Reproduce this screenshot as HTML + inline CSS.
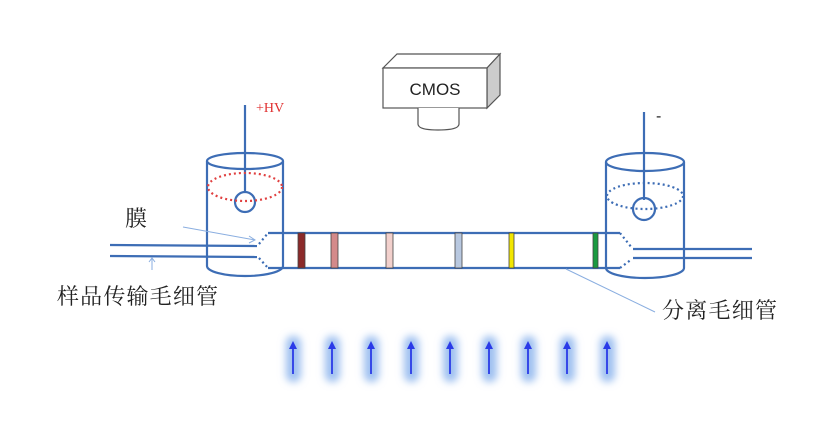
<!DOCTYPE html>
<html><head><meta charset="utf-8"><style>
body{margin:0;background:#fff;width:822px;height:419px;overflow:hidden}
</style></head><body>
<svg width="822" height="419" xmlns="http://www.w3.org/2000/svg">
<defs>
<filter id="b" x="-100%" y="-50%" width="300%" height="200%"><feGaussianBlur stdDeviation="4"/></filter>
</defs>
<!-- CMOS -->
<polygon points="383,68 397,54 500,54 487,68" fill="#fff" stroke="#555" stroke-width="1.2"/>
<polygon points="487,68 500,54 500,95 487,108" fill="#ccc" stroke="#555" stroke-width="1.2"/>
<rect x="383" y="68" width="104" height="40" fill="#fff" stroke="#555" stroke-width="1.2"/>
<text x="435" y="95" font-family="Liberation Sans, sans-serif" font-size="17" text-anchor="middle" fill="#222">CMOS</text>
<path d="M418,108 V124 Q418,130 438,130 Q459,130 459,124 V108" fill="#fff" stroke="#555" stroke-width="1.2"/>
<g stroke="#3d6db5" fill="none" stroke-width="2.2">
<!-- left cylinder -->
<ellipse cx="245" cy="161" rx="38" ry="8"/>
<path d="M207,161 V266 A38,10 0 0 0 283,266 V161"/>
<line x1="245" y1="105" x2="245" y2="193"/>
<circle cx="245" cy="202" r="10"/>
<!-- right cylinder -->
<ellipse cx="645" cy="162" rx="39" ry="9"/>
<path d="M606,162 V268 A39,10 0 0 0 684,268 V162"/>
<line x1="644" y1="112" x2="644" y2="200"/>
<circle cx="644" cy="209" r="11"/>
<!-- separation capillary -->
<line x1="268" y1="233" x2="620" y2="233"/>
<line x1="268" y1="268" x2="620" y2="268"/>
<!-- transport capillary -->
<line x1="110" y1="245" x2="257" y2="246"/>
<line x1="110" y1="256" x2="257" y2="257"/>
<line x1="633" y1="249" x2="752" y2="249"/>
<line x1="633" y1="258" x2="752" y2="258"/>
</g>
<g stroke="#3d6db5" fill="none" stroke-width="2.2" stroke-dasharray="2,3">
<line x1="259" y1="244" x2="268" y2="233"/>
<line x1="259" y1="258" x2="268" y2="268"/>
<line x1="620" y1="233" x2="632" y2="248"/>
<line x1="620" y1="268" x2="632" y2="259"/>
<ellipse cx="645" cy="196" rx="38" ry="13"/>
</g>
<ellipse cx="245" cy="187" rx="37" ry="14" fill="none" stroke="#e04040" stroke-width="2.2" stroke-dasharray="2,3"/>
<!-- bands -->
<g stroke="#444" stroke-width="0.8">
<rect x="298" y="233" width="7" height="35" fill="#8b2a2a"/>
<rect x="331" y="233" width="7" height="35" fill="#d48a8a"/>
<rect x="386" y="233" width="7" height="35" fill="#f2d0cc"/>
<rect x="455" y="233" width="7" height="35" fill="#b8c8e0"/>
<rect x="509" y="233" width="5" height="35" fill="#f2e600"/>
<rect x="593" y="233" width="5" height="35" fill="#1a9a40"/>
</g>
<!-- pointer lines -->
<g stroke="#8aaee0" stroke-width="1" fill="none">
<line x1="183" y1="227" x2="255" y2="240"/>
<polyline points="249,236 255,240 249,243"/>
<line x1="152" y1="258" x2="152" y2="270"/>
<polyline points="149,262 152,258 155,262"/>
<line x1="566" y1="269" x2="655" y2="312"/>
</g>
<text x="256" y="112" font-family="Liberation Serif, serif" font-size="14" fill="#e03030">+HV</text>
<text x="656" y="121" font-family="Liberation Sans, sans-serif" font-size="16" fill="#222">-</text>
<text x="125" y="226" font-family="Liberation Serif, 'Noto Serif CJK SC', serif" font-size="22" fill="#222">膜</text>
<text x="57" y="304" font-family="Liberation Serif, 'Noto Serif CJK SC', serif" font-size="22" fill="#222" textLength="161">样品传输毛细管</text>
<text x="662" y="318" font-family="Liberation Serif, 'Noto Serif CJK SC', serif" font-size="22" fill="#222" textLength="115">分离毛细管</text>
<!-- arrows -->
<g>
<g fill="#9ec0f0" filter="url(#b)">
<rect x="286" y="336" width="15" height="46" rx="7"/><rect x="325" y="336" width="15" height="46" rx="7"/><rect x="364" y="336" width="15" height="46" rx="7"/><rect x="404" y="336" width="15" height="46" rx="7"/><rect x="443" y="336" width="15" height="46" rx="7"/><rect x="482" y="336" width="15" height="46" rx="7"/><rect x="521" y="336" width="15" height="46" rx="7"/><rect x="560" y="336" width="15" height="46" rx="7"/><rect x="600" y="336" width="15" height="46" rx="7"/>
</g>
<g stroke="#2a3ae8" stroke-width="1.8" fill="#2a3ae8">
<line x1="293" y1="348" x2="293" y2="374"/><polygon points="289,349 293,341 297,349" stroke="none"/>
<line x1="332" y1="348" x2="332" y2="374"/><polygon points="328,349 332,341 336,349" stroke="none"/>
<line x1="371" y1="348" x2="371" y2="374"/><polygon points="367,349 371,341 375,349" stroke="none"/>
<line x1="411" y1="348" x2="411" y2="374"/><polygon points="407,349 411,341 415,349" stroke="none"/>
<line x1="450" y1="348" x2="450" y2="374"/><polygon points="446,349 450,341 454,349" stroke="none"/>
<line x1="489" y1="348" x2="489" y2="374"/><polygon points="485,349 489,341 493,349" stroke="none"/>
<line x1="528" y1="348" x2="528" y2="374"/><polygon points="524,349 528,341 532,349" stroke="none"/>
<line x1="567" y1="348" x2="567" y2="374"/><polygon points="563,349 567,341 571,349" stroke="none"/>
<line x1="607" y1="348" x2="607" y2="374"/><polygon points="603,349 607,341 611,349" stroke="none"/>
</g>
</g>
</svg>
</body></html>
